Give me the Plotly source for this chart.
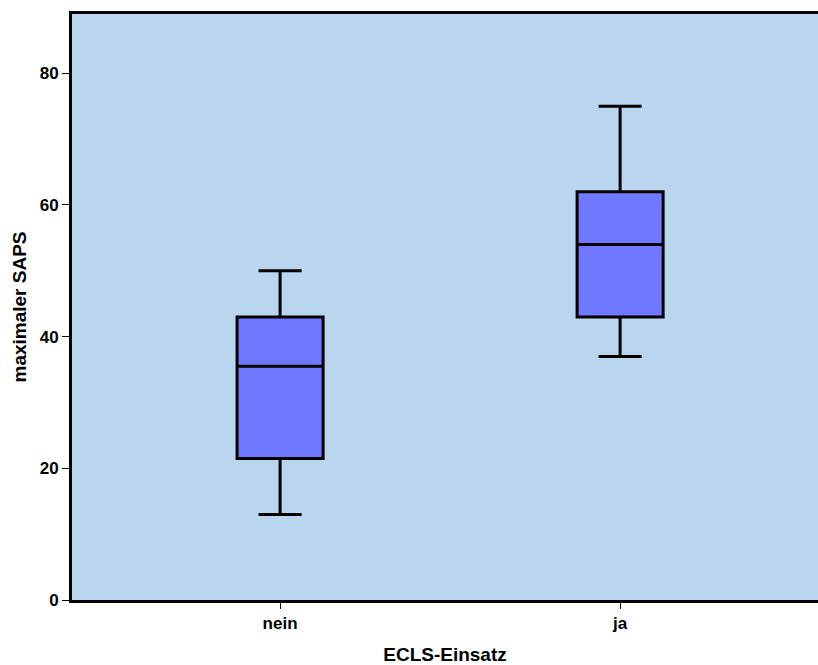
import plotly.graph_objects as go

categories = ["nein", "ja"]
lower_whisker = [13, 37]
q1_values = [21.5, 43]
median_values = [35.5, 54]
q3_values = [43, 62]
upper_whisker = [50, 75]
y_tick_values = [0, 20, 40, 60, 80]

fig = go.Figure()
fig.add_trace(go.Box(
    x=categories,
    q1=q1_values,
    median=median_values,
    q3=q3_values,
    lowerfence=lower_whisker,
    upperfence=upper_whisker,
    fillcolor="rgb(112,120,255)",
    line=dict(color="black", width=3),
    width=0.253,
    whiskerwidth=0.5,
    boxpoints=False,
    showlegend=False,
    hoverinfo="skip",
))

font_family = "Liberation Sans, Arial, sans-serif"
fig.update_layout(
    width=818, height=665,
    margin=dict(l=72, r=0, t=14, b=65),
    paper_bgcolor="white",
    plot_bgcolor="rgb(185,214,238)",
    font=dict(family=font_family, color="black"),
    xaxis=dict(
        type="category",
        range=[-0.612, 1.582],
        showline=True, linecolor="black", linewidth=3, mirror=True,
        ticks="outside", ticklen=6, tickwidth=1, tickcolor="black",
        tickfont=dict(size=17, family=font_family, weight="bold"),
        title=dict(text="<b>ECLS-Einsatz</b>", font=dict(size=19), standoff=18),
        showgrid=False, zeroline=False,
    ),
    yaxis=dict(
        range=[0, 89],
        tickvals=y_tick_values,
        showline=True, linecolor="black", linewidth=3,
        ticks="outside", ticklen=7, tickwidth=1, tickcolor="black",
        tickfont=dict(size=17, family=font_family, weight="bold"),
        title=dict(text="<b>maximaler SAPS</b>", font=dict(size=19), standoff=9),
        showgrid=False, zeroline=False,
    ),
)

fig.write_html("out.html")
